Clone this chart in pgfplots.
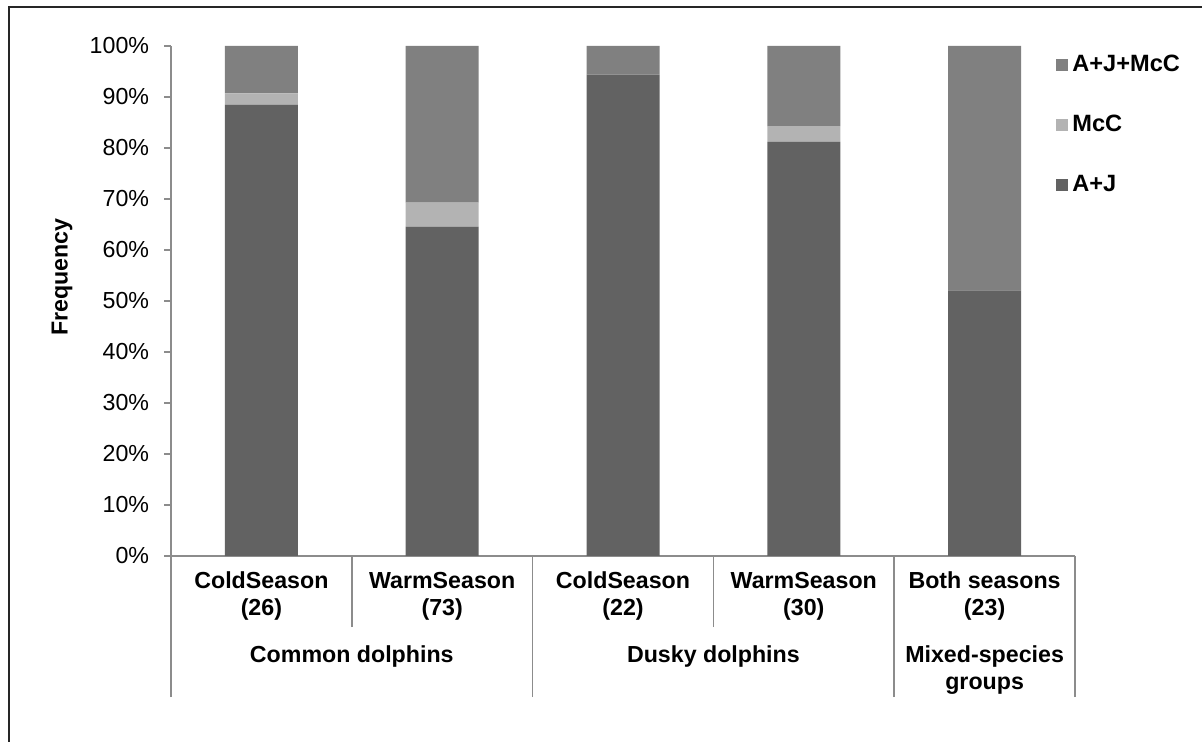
\documentclass[border=0pt]{standalone}
\usepackage{fontspec}
\setmainfont{Liberation Sans}
\usepackage{pgfplots}
\pgfplotsset{compat=1.18}

\definecolor{aj}{RGB}{98,98,98}
\definecolor{mcc}{RGB}{179,179,179}
\definecolor{ajmcc}{RGB}{128,128,128}
\definecolor{axisgray}{RGB}{140,140,140}

\begin{document}
\begin{tikzpicture}[
    lab/.style={font=\bfseries\fontsize{11.6}{13.5}\selectfont, align=center, anchor=center, inner sep=0pt}
  ]
  \useasboundingbox (0,0) rectangle (601pt,371pt);
  \draw[line width=1pt, black!85] (4.5pt,0) -- (4.5pt,367.25pt) -- (601pt,367.25pt);
  \begin{axis}[
      at={(85.5pt,93pt)}, anchor=south west,
      scale only axis, width=452pt, height=255pt,
      xmin=-0.5, xmax=4.5, ymin=0, ymax=100,
      ybar stacked, bar width=36.5pt,
      axis x line*=bottom, axis y line*=left,
      axis line style={axisgray, line width=0.8pt, -},
      tick align=outside,
      tick style={axisgray, line width=0.8pt},
      ytick={0,10,...,100},
      yticklabel={\pgfmathprintnumber{\tick}\%},
      y tick label style={font=\fontsize{11.6}{13}\selectfont, anchor=east, inner sep=0pt, xshift=-6.5pt},
      ytick style={/pgfplots/major tick length=3.5pt},
      xtick={-0.5,1.5,3.5,4.5}, xticklabels={},
      xtick style={/pgfplots/major tick length=70.5pt},
      minor xtick={0.5,2.5},
      minor tick length=35.5pt,
      /pgf/number format/assume math mode=true,
      clip=false,
      legend style={at={(rel axis cs:1,1)}, anchor=north west, xshift=-9.5pt, yshift=-2.5pt,
        draw=none, fill=none, inner sep=0pt, row sep=16.5pt,
        font=\bfseries\fontsize{11.8}{13}\selectfont,
        /tikz/every even column/.append style={column sep=2.5pt},
        cells={anchor=west, inner sep=0pt, text height=8pt, text depth=0pt}},
      legend image code/.code={\fill[#1] (0pt,-3pt) rectangle (6pt,3pt);},
      reverse legend,
    ]
    % A+J
    \addplot[fill=aj, draw=none] coordinates {(0,88.5) (1,64.6) (2,94.4) (3,81.2) (4,52.1)};
    % McC
    \addplot[fill=mcc, draw=none] coordinates {(0,2.2) (1,4.7) (2,0) (3,3.1) (4,0)};
    % A+J+McC
    \addplot[fill=ajmcc, draw=none] coordinates {(0,9.3) (1,30.7) (2,5.6) (3,15.7) (4,47.9)};
    \legend{A+J, McC, A+J+McC}

    \node[lab] at (axis cs:0,0) [yshift=-20.25pt] {ColdSeason\\(26)};
    \node[lab] at (axis cs:1,0) [yshift=-20.25pt] {WarmSeason\\(73)};
    \node[lab] at (axis cs:2,0) [yshift=-20.25pt] {ColdSeason\\(22)};
    \node[lab] at (axis cs:3,0) [yshift=-20.25pt] {WarmSeason\\(30)};
    \node[lab] at (axis cs:4,0) [yshift=-20.25pt] {Both seasons\\(23)};
    \node[lab] at (axis cs:0.5,0) [yshift=-50.5pt] {Common dolphins};
    \node[lab] at (axis cs:2.5,0) [yshift=-50.5pt] {Dusky dolphins};
    \node[lab] at (axis cs:4,0) [yshift=-57.25pt] {Mixed-species\\groups};
  \end{axis}
  \node[rotate=90, font=\bfseries\fontsize{11.6}{13}\selectfont, inner sep=0pt] at (31pt,232.5pt) {Frequency};
\end{tikzpicture}
\end{document}
